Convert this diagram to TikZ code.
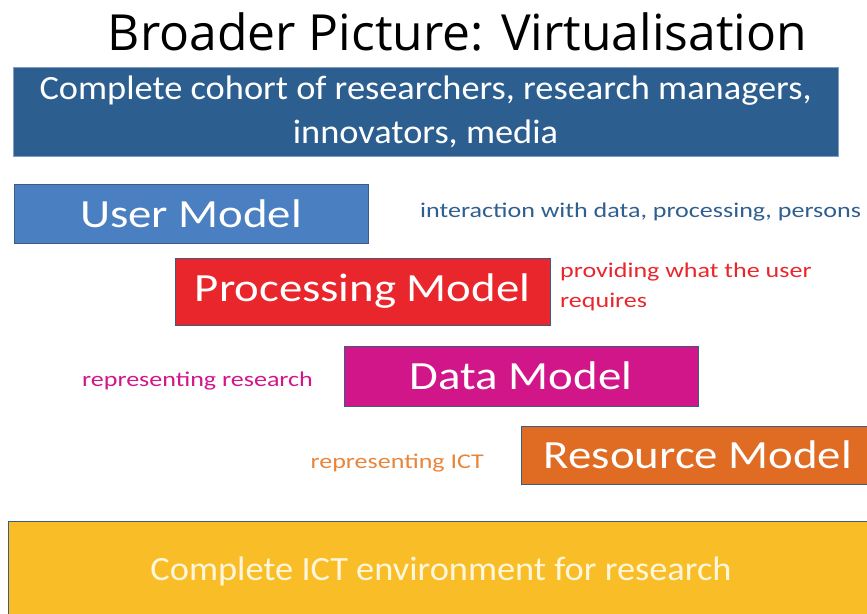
\documentclass[tikz,border=0pt]{standalone}
\usepackage{fontspec}
\setmainfont{Carlito}
% widened cuts of the slide face
\newfontfamily\titlefont{Open Sans}
\newfontfamily\bandfont[FakeStretch=1.07]{Carlito}
\newfontfamily\modelfont[FakeStretch=1.17]{Carlito}
\newfontfamily\notefont[FakeStretch=1.24]{Carlito}
\begin{document}
\begin{tikzpicture}[x=1pt,y=-1pt,
  layer/.style={draw=outline,line width=0.8pt,inner sep=0pt,text=white,align=center},
  model/.style={layer,minimum width=354,font=\modelfont\fontsize{40}{48}\selectfont},
  note/.style={anchor=west,inner sep=0pt,font=\notefont\fontsize{21}{30}\selectfont}]
\definecolor{outline}{HTML}{3B5C85}
\definecolor{cohort}{HTML}{2C5F8F}
\definecolor{usr}{HTML}{4A80C1}
\definecolor{proc}{HTML}{E8262B}
\definecolor{dat}{HTML}{D1168A}
\definecolor{res}{HTML}{E06C23}
\definecolor{env}{HTML}{F9BE27}
\definecolor{usrnote}{HTML}{2F5F8F}
\definecolor{resnote}{HTML}{E8853A}
\definecolor{envtext}{HTML}{FFF6DC}
\useasboundingbox (0,0) rectangle (867,613);
\begin{scope}
\clip (0,0) rectangle (867,613);
% title
\node[inner sep=0pt,font=\titlefont\fontsize{49.8}{58}\selectfont] (title) at (457.5,32) {Broader Picture: Virtualisation};
% top layer: people
\node[layer,fill=cohort,draw=cohort!60,minimum width=825,minimum height=89,
  font=\bandfont\fontsize{34}{44}\selectfont] (cohort) at (425.5,111.5)
  {Complete cohort of researchers, research managers,\\innovators, media};
% model layers
\node[model,fill=usr,minimum height=59] (user) at (191,213.5) {User Model};
\node[model,fill=proc,minimum width=375,minimum height=67,font=\modelfont\fontsize{40}{48}\selectfont]
  (processing) at (362.5,291.5) {Processing Model};
\node[model,fill=dat,minimum height=60] (data) at (521,376) {Data Model};
\node[model,fill=res,minimum height=58] (resource) at (698,455) {Resource Model};
% bottom layer: infrastructure
\node[layer,fill=env,text=envtext,minimum width=870,minimum height=100,
  font=\bandfont\fontsize{34}{40}\selectfont] (env) at (443,571) {Complete ICT environment for research\hspace*{4pt}};
% annotations
\node[note,text=usrnote] (usernote) at (420,212) {interaction with data, processing, persons};
\node[note,text=proc,align=left] (procnote) at (560,287)
  {providing what the user\\requires};
\node[note,text=dat,anchor=east] (datanote) at (313,381) {representing research};
\node[note,text=resnote,anchor=east] (resnote) at (484,463) {representing ICT};
\end{scope}
\end{tikzpicture}
\end{document}
